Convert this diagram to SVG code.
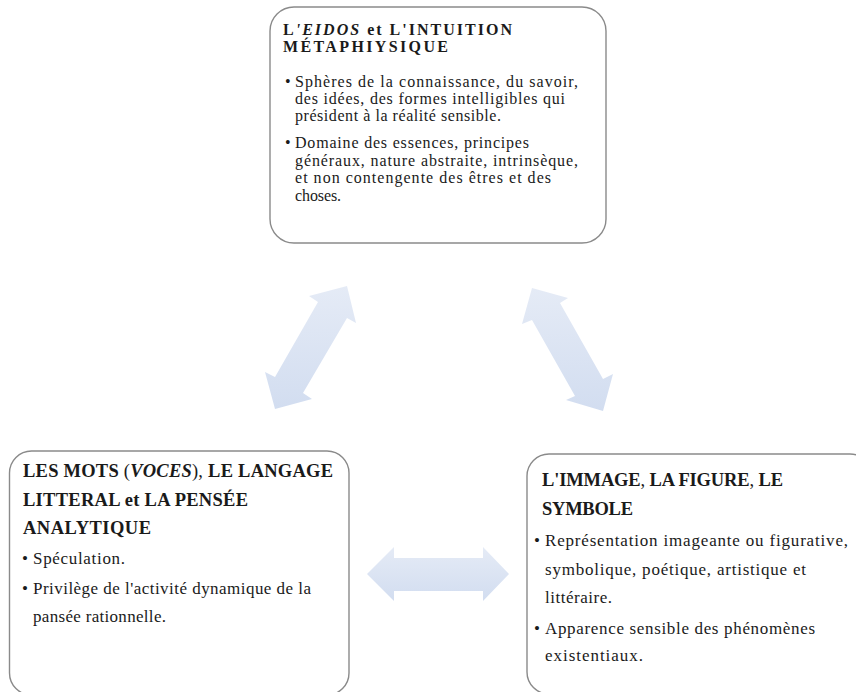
<svg xmlns="http://www.w3.org/2000/svg" width="856" height="692" viewBox="0 0 856 692">
<defs>
<linearGradient id="arrowGrad" x1="0" y1="0" x2="0" y2="1">
<stop offset="0" stop-color="#e5ebf6"/>
<stop offset="1" stop-color="#d2ddf0"/>
</linearGradient>
<style>
.box{fill:#fff;stroke:#8a8a8a;stroke-width:1.4}
.t{font-family:"Liberation Serif","Times New Roman",serif;fill:#1a1a1a}
.h{font-weight:bold}
.n{font-weight:normal}
.bi{font-weight:bold;font-style:italic}
.arrow{fill:url(#arrowGrad);stroke:none}
</style>
</defs>
<rect width="856" height="692" fill="#fff"/>
<g id="connectors">
<polygon class="arrow" points="347,286 356,323 347,318 303,393 312,399 275,409 265,372 275,377 318,302 309,296"/>
<polygon class="arrow" points="532,288 568,298 560,303 603,379 613,374 603,411 566,400 575,396 532,320 522,324"/>
<polygon class="arrow" points="367,574 394,547 394,558 483,558 483,547 509,574 483,601 483,591 394,591 394,601"/>
</g>
<g id="node-eidos">
<rect class="box" x="270" y="7" width="336" height="236" rx="24" ry="24"/>
<text class="t h" font-size="16" x="283" y="35" textLength="229" lengthAdjust="spacing">L<tspan class="bi">'EIDOS </tspan> et L'INTUITION</text>
<text class="t h" font-size="16" x="283" y="52" textLength="165" lengthAdjust="spacing">MÉTAPHIYSIQUE</text>
<g class="t" font-size="16">
<text x="285" y="86.5">•</text>
<text x="295" y="86.5" textLength="283" lengthAdjust="spacing">Sphères de la connaissance, du savoir,</text>
<text x="295" y="103.5" textLength="270" lengthAdjust="spacing">des idées, des formes intelligibles qui</text>
<text x="295" y="120.5" textLength="206" lengthAdjust="spacing">président à la réalité sensible.</text>
<text x="285" y="148">•</text>
<text x="295" y="148" textLength="234" lengthAdjust="spacing">Domaine des essences, principes</text>
<text x="295" y="165.5" textLength="283" lengthAdjust="spacing">généraux, nature abstraite, intrinsèque,</text>
<text x="295" y="183" textLength="256" lengthAdjust="spacing">et non contengente des êtres et des</text>
<text x="295" y="200.5" textLength="46" lengthAdjust="spacing">choses.</text>
</g>
</g>
<g id="node-mots">
<rect class="box" x="9.5" y="451" width="339.5" height="244" rx="22" ry="22"/>
<text class="t h" font-size="18.5" x="23" y="477" textLength="310" lengthAdjust="spacing">LES MOTS <tspan class="n">(</tspan><tspan class="bi">VOCES</tspan><tspan class="n">),</tspan> LE LANGAGE</text>
<text class="t h" font-size="18.5" x="23" y="506" textLength="225" lengthAdjust="spacing">LITTERAL et LA PENSÉE</text>
<text class="t h" font-size="18.5" x="23" y="534" textLength="128" lengthAdjust="spacing">ANALYTIQUE</text>
<g class="t" font-size="17">
<text x="22" y="564">•</text>
<text x="33" y="564" textLength="92" lengthAdjust="spacing">Spéculation.</text>
<text x="22" y="594">•</text>
<text x="33" y="594" textLength="278" lengthAdjust="spacing">Privilège de l'activité dynamique de la</text>
<text x="33" y="622" textLength="133" lengthAdjust="spacing">pansée rationnelle.</text>
</g>
</g>
<g id="node-image">
<rect class="box" x="527" y="454" width="345" height="240" rx="22" ry="22"/>
<text class="t h" font-size="18.5" x="542" y="486" textLength="241" lengthAdjust="spacing">L'IMMAGE<tspan class="n">,</tspan> LA FIGURE<tspan class="n">,</tspan> LE</text>
<text class="t h" font-size="18.5" x="542" y="515" textLength="91" lengthAdjust="spacing">SYMBOLE</text>
<g class="t" font-size="17">
<text x="534" y="546">•</text>
<text x="545" y="546" textLength="303" lengthAdjust="spacing">Représentation imageante ou figurative,</text>
<text x="545" y="575" textLength="261" lengthAdjust="spacing">symbolique, poétique, artistique et</text>
<text x="545" y="603" textLength="67" lengthAdjust="spacing">littéraire.</text>
<text x="534" y="634">•</text>
<text x="545" y="634" textLength="270" lengthAdjust="spacing">Apparence sensible des phénomènes</text>
<text x="545" y="661" textLength="98" lengthAdjust="spacing">existentiaux.</text>
</g>
</g>
</svg>
